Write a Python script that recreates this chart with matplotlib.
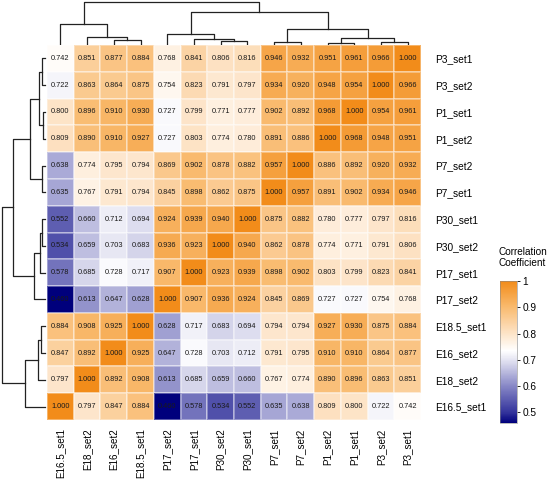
import numpy as np
import matplotlib
matplotlib.use('Agg')
import matplotlib.pyplot as plt
from matplotlib.colors import LinearSegmentedColormap, Normalize
from matplotlib.cm import ScalarMappable

plt.rcParams['font.family'] = ['Liberation Sans', 'DejaVu Sans']

# column order (left to right); rows are the same samples, reversed
col_labels = ['E16.5_set1', 'E18_set2', 'E16_set2', 'E18.5_set1',
              'P17_set2', 'P17_set1', 'P30_set2', 'P30_set1',
              'P7_set1', 'P7_set2', 'P1_set2', 'P1_set1',
              'P3_set2', 'P3_set1']
row_labels = col_labels[::-1]

# correlation values, rows top to bottom (P3_set1 ... E16.5_set1)
corr = [
    [0.742, 0.851, 0.877, 0.884, 0.768, 0.841, 0.806, 0.816, 0.946, 0.932, 0.951, 0.961, 0.966, 1.000],
    [0.722, 0.863, 0.864, 0.875, 0.754, 0.823, 0.791, 0.797, 0.934, 0.920, 0.948, 0.954, 1.000, 0.966],
    [0.800, 0.896, 0.910, 0.930, 0.727, 0.799, 0.771, 0.777, 0.902, 0.892, 0.968, 1.000, 0.954, 0.961],
    [0.809, 0.890, 0.910, 0.927, 0.727, 0.803, 0.774, 0.780, 0.891, 0.886, 1.000, 0.968, 0.948, 0.951],
    [0.638, 0.774, 0.795, 0.794, 0.869, 0.902, 0.878, 0.882, 0.957, 1.000, 0.886, 0.892, 0.920, 0.932],
    [0.635, 0.767, 0.791, 0.794, 0.845, 0.898, 0.862, 0.875, 1.000, 0.957, 0.891, 0.902, 0.934, 0.946],
    [0.552, 0.660, 0.712, 0.694, 0.924, 0.939, 0.940, 1.000, 0.875, 0.882, 0.780, 0.777, 0.797, 0.816],
    [0.534, 0.659, 0.703, 0.683, 0.936, 0.923, 1.000, 0.940, 0.862, 0.878, 0.774, 0.771, 0.791, 0.806],
    [0.578, 0.685, 0.728, 0.717, 0.907, 1.000, 0.923, 0.939, 0.898, 0.902, 0.803, 0.799, 0.823, 0.841],
    [0.460, 0.613, 0.647, 0.628, 1.000, 0.907, 0.936, 0.924, 0.845, 0.869, 0.727, 0.727, 0.754, 0.768],
    [0.884, 0.908, 0.925, 1.000, 0.628, 0.717, 0.683, 0.694, 0.794, 0.794, 0.927, 0.930, 0.875, 0.884],
    [0.847, 0.892, 1.000, 0.925, 0.647, 0.728, 0.703, 0.712, 0.791, 0.795, 0.910, 0.910, 0.864, 0.877],
    [0.797, 1.000, 0.892, 0.908, 0.613, 0.685, 0.659, 0.660, 0.767, 0.774, 0.890, 0.896, 0.863, 0.851],
    [1.000, 0.797, 0.847, 0.884, 0.460, 0.578, 0.534, 0.552, 0.635, 0.638, 0.809, 0.800, 0.722, 0.742],
]

# clustering tree: (left, right, merge height)
tree_E = ('E16.5_set1', ('E18_set2', ('E16_set2', 'E18.5_set1', 4.3), 7.3), 20.3)
tree_P17 = ('P17_set2', ('P17_set1', ('P30_set2', 'P30_set1', 3.3), 5.3), 10.6)
tree_P137 = (('P7_set1', 'P7_set2', 2.6),
             (('P1_set2', 'P1_set1', 1.6), ('P3_set2', 'P3_set1', 2.6), 6.0), 15.0)
tree = (tree_E, (tree_P17, tree_P137, 32.0), 42.6)

cbar_ticks = [0.5, 0.6, 0.7, 0.8, 0.9, 1.0]
cbar_ticklabels = ['0.5', '0.6', '0.7', '0.8', '0.9', '1']

vmin, vmax = 0.46, 1.0
stops = [(0.46, '#00007c'), (0.50, '#34349c'), (0.60, '#8787c6'),
         (0.70, '#e4e4f2'), (0.735, '#ffffff'), (0.80, '#fde4c8'),
         (0.90, '#f9bb70'), (1.0, '#f28c1a')]
cmap = LinearSegmentedColormap.from_list(
    'corr', [((v - vmin) / (vmax - vmin), c) for v, c in stops])
norm = Normalize(vmin=vmin, vmax=vmax)

W, H = 558, 482
fig = plt.figure(figsize=(W / 100, H / 100), dpi=100)


def px_axes(x0, y0, x1, y1):
    return fig.add_axes([x0 / W, 1 - y1 / H, (x1 - x0) / W, (y1 - y0) / H])


# heatmap
ax = px_axes(47, 45, 421, 420)
data = np.array(corr)
n = len(col_labels)
ax.pcolormesh(np.arange(n + 1), np.arange(n + 1), data, cmap=cmap, norm=norm,
              edgecolors=(1, 1, 1, 0.35), linewidth=0.3)
ax.set_xlim(0, n)
ax.set_ylim(n, 0)
for i in range(n):
    for j in range(n):
        ax.text(j + 0.5, i + 0.5, '%.3f' % data[i, j], ha='center',
                va='center', fontsize=5.3, color='#1a1a1a')
ax.set_xticks(np.arange(n) + 0.5)
ax.set_xticklabels(col_labels, rotation=90, fontsize=7.1)
ax.set_yticks(np.arange(n) + 0.5)
ax.set_yticklabels(row_labels, fontsize=7.3)
ax.yaxis.tick_right()
ax.tick_params(axis='x', length=0, pad=6)
ax.tick_params(axis='y', length=0, pad=10)
for s in ax.spines.values():
    s.set_visible(False)


def draw_tree(axd, node, pos, vertical):
    # returns (leaf position, height) of node, drawing links on the way
    if isinstance(node, str):
        return pos[node], 0.0
    left, right, h = node
    pl, hl = draw_tree(axd, left, pos, vertical)
    pr, hr = draw_tree(axd, right, pos, vertical)
    xs = [pl, pl, pr, pr]
    ys = [hl, h, h, hr]
    if vertical:
        axd.plot(xs, ys, color='#222222', lw=0.9)
    else:
        axd.plot(ys, xs, color='#222222', lw=0.9)
    return (pl + pr) / 2, h


# top dendrogram (columns)
axt = px_axes(47, 0, 421, 45)
draw_tree(axt, tree, {c: i + 0.5 for i, c in enumerate(col_labels)}, True)
axt.set_xlim(0, n)
axt.set_ylim(-0.7, 44.3)
axt.axis('off')

# left dendrogram (rows)
axl = px_axes(0, 45, 47, 420)
draw_tree(axl, tree, {r: i + 0.5 for i, r in enumerate(row_labels)}, False)
axl.set_ylim(n, 0)
axl.set_xlim(45, -2)
axl.axis('off')

# colorbar
cax = px_axes(500, 281, 517, 423)
cb = fig.colorbar(ScalarMappable(norm=norm, cmap=cmap), cax=cax)
cb.set_ticks(cbar_ticks)
cb.set_ticklabels(cbar_ticklabels)
cb.ax.tick_params(labelsize=7.3, length=2, width=0.6, pad=2)
cb.outline.set_linewidth(0.4)
cb.outline.set_edgecolor('#888888')
fig.text(499 / W, 1 - 247 / H, 'Correlation\nCoefficient', fontsize=7.2,
         ha='left', va='top', linespacing=1.1)

fig.savefig('out.png', dpi=100)
